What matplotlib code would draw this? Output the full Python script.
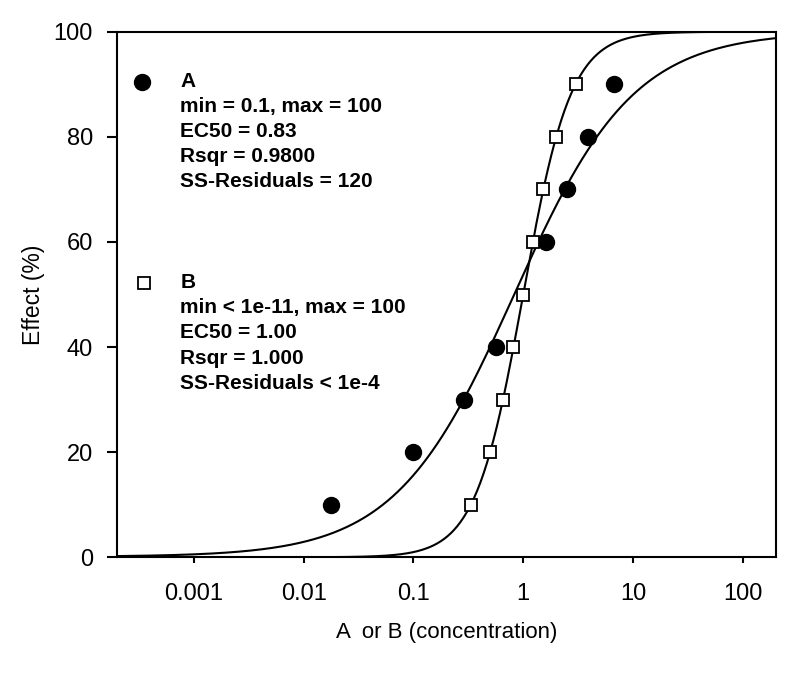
import matplotlib
matplotlib.use("Agg")
import matplotlib.pyplot as plt
import numpy as np

plt.rcParams['font.family'] = ['Liberation Sans', 'DejaVu Sans']

# data
a_conc = [0.0178, 0.1, 0.29, 0.56, 1.63, 2.5, 3.9, 6.7]
a_effect = [10, 20, 30, 40, 60, 70, 80, 90]
b_conc = [0.333, 0.5, 0.655, 0.816, 1.0, 1.225, 1.528, 2.0, 3.0]
b_effect = [10, 20, 30, 40, 50, 60, 70, 80, 90]

# fitted Hill parameters: min, max, EC50, slope
a_fit = (0.1, 100, 0.83, 0.8)
b_fit = (0.0, 100, 1.00, 2.0)

x_ticks = [0.001, 0.01, 0.1, 1, 10, 100]
x_ticklabels = ['0.001', '0.01', '0.1', '1', '10', '100']
y_ticks = [0, 20, 40, 60, 80, 100]

a_text = ['A', 'min = 0.1, max = 100', 'EC50 = 0.83', 'Rsqr = 0.9800', 'SS-Residuals = 120']
b_text = ['B', 'min < 1e-11, max = 100', 'EC50 = 1.00', 'Rsqr = 1.000', 'SS-Residuals < 1e-4']


def hill(x, p):
    lo, hi, ec50, h = p
    return lo + (hi - lo) / (1 + (ec50 / x) ** h)


fig = plt.figure(figsize=(8, 6.75), dpi=100)
ax = fig.add_axes([0.1466, 0.1744, 0.823, 0.7786])

xx = np.logspace(np.log10(2e-4), np.log10(200), 400)
ax.plot(xx, hill(xx, a_fit), color='black', lw=1.5, zorder=2)
ax.plot(xx, hill(xx, b_fit), color='black', lw=1.5, zorder=2)

ax.plot(a_conc, a_effect, 'o', ms=11.5, color='black', zorder=3)
ax.plot(b_conc, b_effect, 's', ms=9, mfc='white', mec='black', mew=1.3, zorder=4)

ax.set_xscale('log')
ax.set_xlim(2e-4, 200)
ax.set_ylim(0, 100)
ax.set_xticks(x_ticks)
ax.set_xticklabels(x_ticklabels)
ax.minorticks_off()
ax.set_yticks(y_ticks)
ax.tick_params(axis='x', direction='out', length=4.5, width=1.5, labelsize=17, pad=14)
ax.tick_params(axis='y', direction='out', length=7.5, width=1.5, labelsize=17, pad=10)
for s in ax.spines.values():
    s.set_linewidth(1.5)

ax.set_xlabel('A  or B (concentration)', fontsize=16, labelpad=12)
ax.set_ylabel('Effect (%)', fontsize=16.5, labelpad=6)

# legend-like annotations
ax.plot([0.000336], [90.5], 'o', ms=11.5, color='black')
ax.plot([0.000354], [52.2], 's', ms=8, mfc='white', mec='black', mew=1.3)
tx = 0.00075
for i, line in enumerate(a_text):
    ax.text(tx, 90.5 - i * 4.76, line, fontsize=15, fontweight='bold', va='center', ha='left')
for i, line in enumerate(b_text):
    ax.text(tx, 52.3 - i * 4.8, line, fontsize=15, fontweight='bold', va='center', ha='left')

fig.savefig('out.png', dpi=100)
